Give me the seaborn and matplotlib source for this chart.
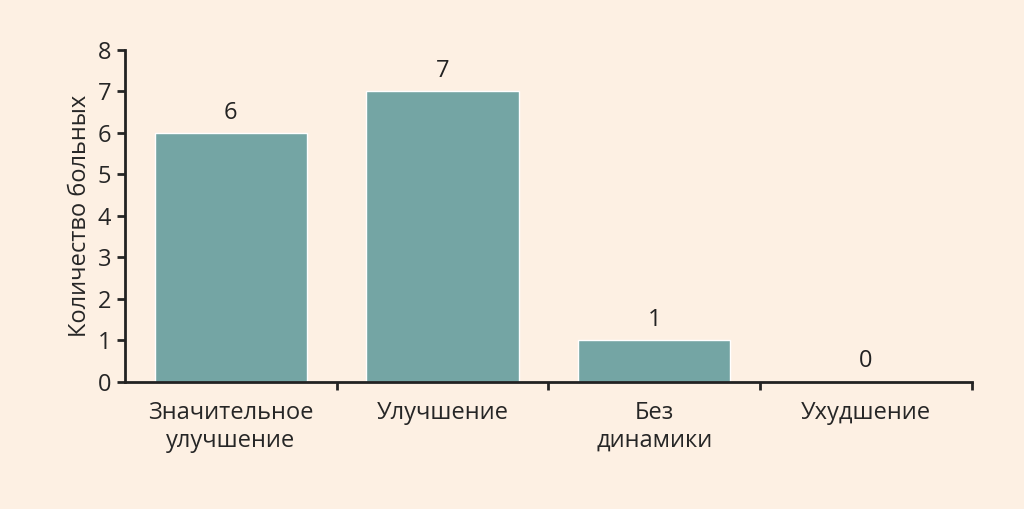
import matplotlib
matplotlib.use("Agg")
import matplotlib.pyplot as plt
import seaborn as sns
import pandas as pd

# data
categories = ["Значительное\nулучшение", "Улучшение", "Без\nдинамики", "Ухудшение"]
patients = [6, 7, 1, 0]

bg = "#FDF0E3"
bar_color = "#74A5A4"

sns.set_style("ticks")
plt.rcParams['font.family'] = ['Open Sans', 'DejaVu Sans']

df = pd.DataFrame({"cat": categories, "n": patients})

fig = plt.figure(figsize=(10.24, 5.09), dpi=100, facecolor=bg)
ax = fig.add_axes([0.122, 0.25, 0.827, 0.652], facecolor=bg)

sns.barplot(data=df, x="cat", y="n", color=bar_color, width=0.72, saturation=1, ax=ax)

for i, v in enumerate(patients):
    ax.text(i, v + 0.2, str(v), ha="center", va="bottom", fontsize=17, color="#222222")

ax.set_xlim(-0.5, 3.5)
ax.set_ylim(0, 8)
ax.set_yticks(range(0, 9))
ax.set_xticks([0.5, 1.5, 2.5, 3.5], minor=True)
ax.tick_params(axis="x", which="major", length=0, pad=14, labelsize=17)
ax.tick_params(axis="x", which="minor", length=6, width=2, direction="out")
ax.tick_params(axis="y", length=6, width=2, labelsize=17, pad=4)
ax.set_xlabel("")
ax.set_ylabel("Количество больных", fontsize=17)
for s in ["top", "right"]:
    ax.spines[s].set_visible(False)
for s in ["left", "bottom"]:
    ax.spines[s].set_linewidth(2)
    ax.spines[s].set_color("#222222")

fig.savefig("out.png", facecolor=bg)
